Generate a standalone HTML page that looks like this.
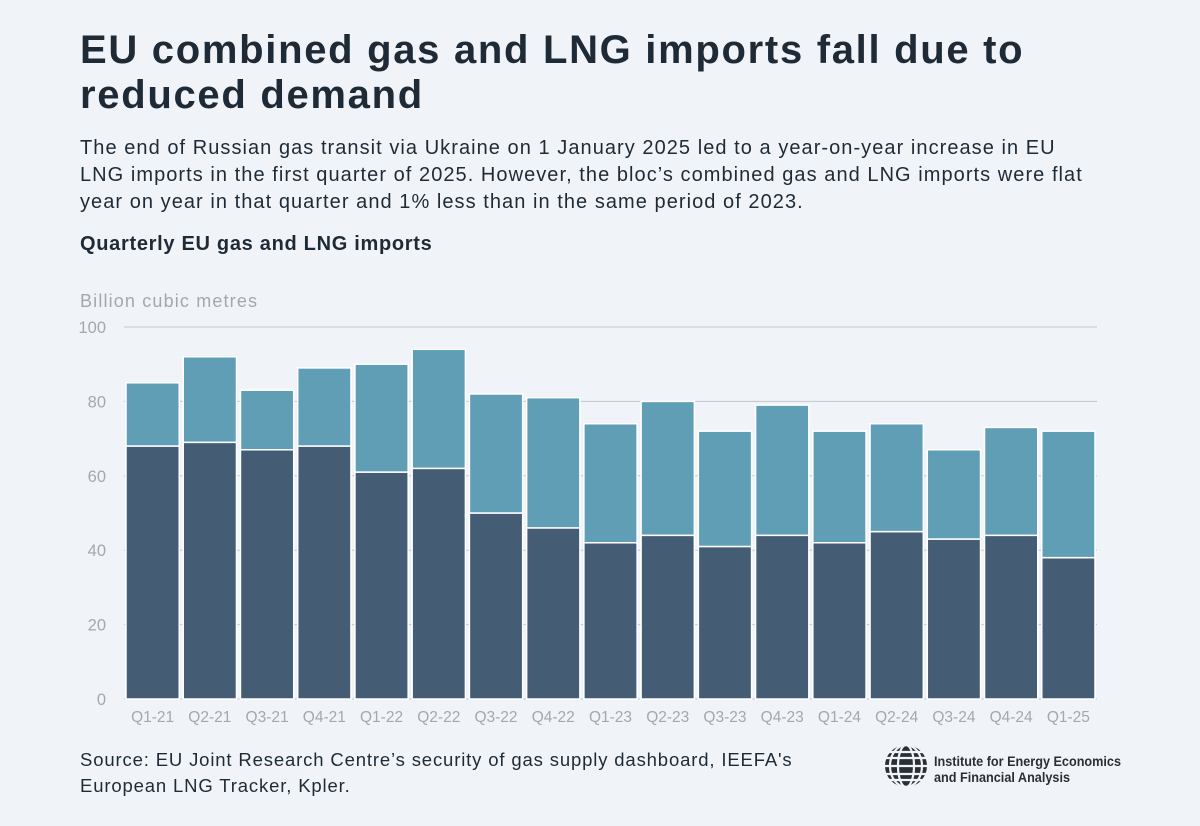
<!DOCTYPE html>
<html><head><meta charset="utf-8">
<style>
body{margin:0;background:#f0f4f9;font-family:"Liberation Sans",sans-serif;color:#1e2a36;}
#wrap{position:relative;width:1200px;height:826px;overflow:hidden;}
h1{position:absolute;left:80px;top:28px;margin:0;font-size:40px;line-height:45px;font-weight:bold;white-space:nowrap;letter-spacing:1.7px;}
#sub{position:absolute;left:80px;top:135px;margin:0;font-size:20px;line-height:27px;white-space:nowrap;letter-spacing:1.05px;}
#ct{position:absolute;left:80px;top:233px;font-size:20px;font-weight:bold;letter-spacing:0.7px;}
#src{position:absolute;left:80px;top:747px;font-size:18.5px;line-height:26px;white-space:nowrap;letter-spacing:0.85px;}
#logo{position:absolute;left:884px;top:744px;}
svg text{font-family:"Liberation Sans",sans-serif;}
</style></head><body>
<div id="wrap">
<h1>EU combined gas and LNG imports fall due to<br>reduced demand</h1>
<p id="sub">The end of Russian gas transit via Ukraine on 1 January 2025 led to a year-on-year increase in EU<br>LNG imports in the first quarter of 2025. However, the bloc’s combined gas and LNG imports were flat<br>year on year in that quarter and 1% less than in the same period of 2023.</p>
<div id="ct">Quarterly EU gas and LNG imports</div>
<svg id="chart" width="1200" height="826" style="position:absolute;left:0;top:0">
<text x="80" y="307" font-size="18" fill="#a3a8ad" textLength="177">Billion cubic metres</text>
<g id="grid"></g><g id="bars"></g><g id="xl"></g>
</svg>
<div id="src">Source: EU Joint Research Centre’s security of gas supply dashboard, IEEFA's<br>European LNG Tracker, Kpler.</div>
<div id="logo">
<svg width="250" height="50">
<circle cx="22" cy="22" r="21" fill="#2a2f36"/>
<g stroke="#f0f4f9" stroke-width="2.2" fill="none">
<ellipse cx="22" cy="22" rx="8" ry="21"/><ellipse cx="22" cy="22" rx="16" ry="21"/>
<line x1="1" y1="14" x2="43" y2="14"/><line x1="1" y1="22" x2="43" y2="22"/><line x1="1" y1="30" x2="43" y2="30"/><line x1="4" y1="8" x2="40" y2="8"/><line x1="4" y1="36" x2="40" y2="36"/></g>
<text x="50" y="22" font-size="14" font-weight="bold" fill="#2a2f36" textLength="187" lengthAdjust="spacingAndGlyphs">Institute for Energy Economics</text>
<text x="50" y="38" font-size="14" font-weight="bold" fill="#2a2f36" textLength="136" lengthAdjust="spacingAndGlyphs">and Financial Analysis</text>
</svg></div>
</div>
<script>
const categories=["Q1-21","Q2-21","Q3-21","Q4-21","Q1-22","Q2-22","Q3-22","Q4-22","Q1-23","Q2-23","Q3-23","Q4-23","Q1-24","Q2-24","Q3-24","Q4-24","Q1-25"];
const pipeline=[68,69,67,68,61,62,50,46,42,44,41,44,42,45,43,44,38];
const lng=[17,23,16,21,29,32,32,35,32,36,31,35,30,29,24,29,34];
const yTicks=[0,20,40,60,80,100];
const NS="http://www.w3.org/2000/svg";
const x0=124,x1=1097,y0=699,y1=327,ymax=100;
const band=(x1-x0)/categories.length;
const y=v=>y0-(v/ymax)*(y0-y1);
const xc=i=>x0+band*(i+0.5);
function mk(t,a,p){const e=document.createElementNS(NS,t);for(const k in a)e.setAttribute(k,a[k]);p.appendChild(e);return e;}
const grid=document.getElementById('grid'),bars=document.getElementById('bars'),xl=document.getElementById('xl');
yTicks.forEach(t=>{
 const l=mk('line',{x1:x0,x2:x1,y1:y(t),y2:y(t),stroke:'#c3c7cc','stroke-width':1},grid);
 
 
 const tx=mk('text',{x:106,y:y(t)+6,'font-size':16.5,fill:'#a3a8ad','text-anchor':'end'},grid);
 tx.textContent=t;
 
 
});
const bw=band-4;
categories.forEach((c,i)=>{
 const bx=xc(i)-bw/2;
 const p=mk('rect',{x:bx,y:y(pipeline[i]),width:bw,height:y(0)-y(pipeline[i]),fill:'#445d74',stroke:'#ffffff','stroke-width':1.5},bars);
 
 
 const l=mk('rect',{x:bx,y:y(pipeline[i]+lng[i]),width:bw,height:y(pipeline[i])-y(pipeline[i]+lng[i]),fill:'#609eb6',stroke:'#ffffff','stroke-width':1.5},bars);
 
 
 const tx=mk('text',{x:xc(i),y:722,'font-size':15.5,fill:'#a3a8ad','text-anchor':'middle'},xl);
 tx.textContent=c;
 
 
});
</script>
</body></html>
